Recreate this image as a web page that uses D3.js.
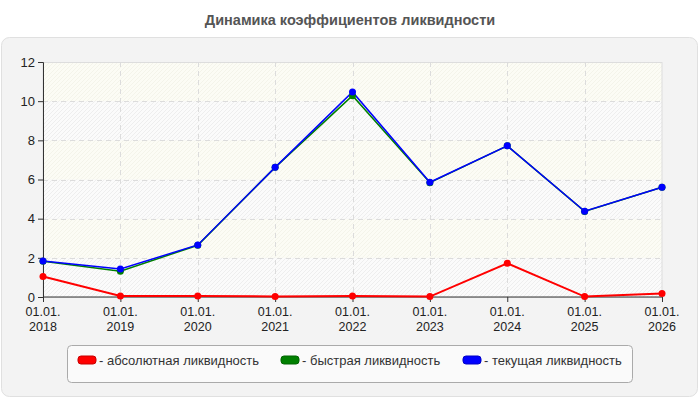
<!DOCTYPE html>
<html>
<head>
<meta charset="utf-8">
<script src="https://cdn.jsdelivr.net/npm/d3@7"></script>
<style>
  body { margin: 0; background: #fff; font-family: "Liberation Sans", Arial, sans-serif; }
</style>
</head>
<body>
<div class="chart"></div>
<script>
  // data
  const years = ["2018", "2019", "2020", "2021", "2022", "2023", "2024", "2025", "2026"];
  const absolute = [1.05, 0.05, 0.05, 0.03, 0.05, 0.02, 1.72, 0.02, 0.18];
  const quick = [1.82, 1.32, 2.64, 6.62, 10.28, 5.84, 7.72, 4.37, 5.6];
  const current = [1.84, 1.43, 2.66, 6.62, 10.47, 5.86, 7.72, 4.38, 5.6];
  const yTicks = [0, 2, 4, 6, 8, 10, 12];
  const seriesNames = ["- абсолютная ликвидность", "- быстрая ликвидность", "- текущая ликвидность"];
  const seriesColors = ["#ff0000", "#008000", "#0000ff"];

  const width = 700;
  const height = 400;
  const margin = {left: 43, right: 38, top: 62, bottom: 103};

  const svg = d3.select('.chart')
    .append('svg')
    .attr('width', width)
    .attr('height', height)
    .style('font-family', '"Liberation Sans", Arial, sans-serif')

  const defs = svg.append('defs');
  const hatch = defs.append('pattern')
    .attr('id', 'hatch')
    .attr('patternUnits', 'userSpaceOnUse')
    .attr('width', 4)
    .attr('height', 4)
  hatch.append('rect').attr('width', 4).attr('height', 4).attr('fill', '#fbfbfb')
  hatch.append('path')
    .attr('d', 'M-1,1 l2,-2 M0,4 l4,-4 M3,5 l2,-2')
    .attr('stroke', '#eeeeee')
    .attr('stroke-width', 1)
  const hatch2 = defs.append('pattern')
    .attr('id', 'hatch2')
    .attr('patternUnits', 'userSpaceOnUse')
    .attr('width', 4)
    .attr('height', 4)
  hatch2.append('rect').attr('width', 4).attr('height', 4).attr('fill', '#fcfcf5')
  hatch2.append('path')
    .attr('d', 'M-1,1 l2,-2 M0,4 l4,-4 M3,5 l2,-2')
    .attr('stroke', '#f4f4ea')
    .attr('stroke-width', 1)

  // title
  svg.append('text')
    .attr('x', width / 2)
    .attr('y', 25)
    .attr('text-anchor', 'middle')
    .attr('font-size', 14.5)
    .attr('font-weight', 'bold')
    .attr('fill', '#555')
    .text('Динамика коэффициентов ликвидности')

  // panel
  svg.append('rect')
    .attr('x', 1.5).attr('y', 37.5)
    .attr('width', 696).attr('height', 359)
    .attr('rx', 8)
    .attr('fill', '#f3f3f3')
    .attr('stroke', '#e0e0e0')

  const x = d3.scalePoint()
    .domain(years)
    .range([margin.left, width - margin.right])

  const y = d3.scaleLinear()
    .domain([0, 12])
    .range([height - margin.bottom, margin.top])

  // bands
  svg.selectAll('rect.band')
    .data(d3.range(6))
    .enter()
    .append('rect')
    .attr('class', 'band')
    .attr('x', margin.left)
    .attr('y', d => y(yTicks[d + 1]))
    .attr('width', width - margin.right - margin.left)
    .attr('height', d => y(yTicks[d]) - y(yTicks[d + 1]))
    .attr('fill', d => d % 2 == 0 ? 'url(#hatch)' : 'url(#hatch2)')

  // plot border
  svg.append('rect')
    .attr('x', margin.left).attr('y', margin.top + 0.5)
    .attr('width', width - margin.right - margin.left)
    .attr('height', y(0) - margin.top)
    .attr('fill', 'none')
    .attr('stroke', '#dddddd')

  // grid
  svg.selectAll('line.hgrid')
    .data(yTicks.slice(1, -1))
    .enter()
    .append('line')
    .attr('x1', margin.left).attr('x2', width - margin.right)
    .attr('y1', d => Math.round(y(d)) + 0.5).attr('y2', d => Math.round(y(d)) + 0.5)
    .attr('stroke', '#dcdcdc')
    .attr('stroke-dasharray', '5,4')

  svg.selectAll('line.vgrid')
    .data(years.slice(1, -1))
    .enter()
    .append('line')
    .attr('x1', d => Math.round(x(d)) + 0.5).attr('x2', d => Math.round(x(d)) + 0.5)
    .attr('y1', margin.top).attr('y2', y(0))
    .attr('stroke', '#dcdcdc')
    .attr('stroke-dasharray', '5,4')

  // axes
  const yAxis = svg.append('g')
    .attr('transform', `translate(${margin.left},0)`)
    .call(d3.axisLeft(y).tickValues(yTicks).tickSize(5).tickPadding(3))
  yAxis.select('.domain').attr('stroke', '#333')
  yAxis.selectAll('.tick line').attr('stroke', '#333')
  yAxis.selectAll('text').attr('font-size', 13).attr('fill', '#222').attr('font-family', '"Liberation Sans", Arial, sans-serif')

  const xAxis = svg.append('g')
    .attr('transform', `translate(0,${y(0)})`)
    .call(d3.axisBottom(x).tickSize(5).tickFormat(''))
  xAxis.select('.domain').attr('stroke', '#333').attr('d', `M${margin.left},0H${width - margin.right}`)
  xAxis.selectAll('.tick line').attr('stroke', '#333')

  svg.selectAll('text.xlab1')
    .data(years)
    .enter()
    .append('text')
    .attr('x', d => x(d))
    .attr('y', y(0) + 19)
    .attr('text-anchor', 'middle')
    .attr('font-size', 12.5)
    .attr('fill', '#222')
    .text('01.01.')
  svg.selectAll('text.xlab2')
    .data(years)
    .enter()
    .append('text')
    .attr('x', d => x(d))
    .attr('y', y(0) + 33.5)
    .attr('text-anchor', 'middle')
    .attr('font-size', 12.5)
    .attr('fill', '#222')
    .text(d => d)

  // lines, drawn red first then green then blue
  const allSeries = [absolute, quick, current];
  const line = d3.line()
    .x((d, i) => x(years[i]))
    .y(d => y(d))

  allSeries.forEach(function(s, k){
    svg.append('path')
      .datum(s)
      .attr('d', line)
      .attr('fill', 'none')
      .attr('stroke', seriesColors[k])
      .attr('stroke-width', k == 0 ? 2 : 1.5)
  })
  allSeries.forEach(function(s, k){
    svg.selectAll('circle.s' + k)
      .data(s)
      .enter()
      .append('circle')
      .attr('cx', (d, i) => x(years[i]))
      .attr('cy', d => y(d))
      .attr('r', 3.5)
      .attr('fill', seriesColors[k])
  })

  // legend
  svg.append('rect')
    .attr('x', 67.5).attr('y', 345.5)
    .attr('width', 565).attr('height', 37)
    .attr('rx', 4)
    .attr('fill', '#fafafa')
    .attr('stroke', '#aaaaaa')

  const legendX = [78, 281, 463];
  seriesNames.forEach(function(name, k){
    svg.append('rect')
      .attr('x', legendX[k]).attr('y', 356)
      .attr('width', 18).attr('height', 8)
      .attr('rx', 3)
      .attr('fill', seriesColors[k])
      .attr('stroke', d3.color(seriesColors[k]).darker(0.7))
      .attr('stroke-width', 1)
    svg.append('text')
      .attr('x', legendX[k] + 21)
      .attr('y', 365)
      .attr('font-size', 13)
      .attr('fill', '#333')
      .text(name)
  })
</script>
</body>
</html>
